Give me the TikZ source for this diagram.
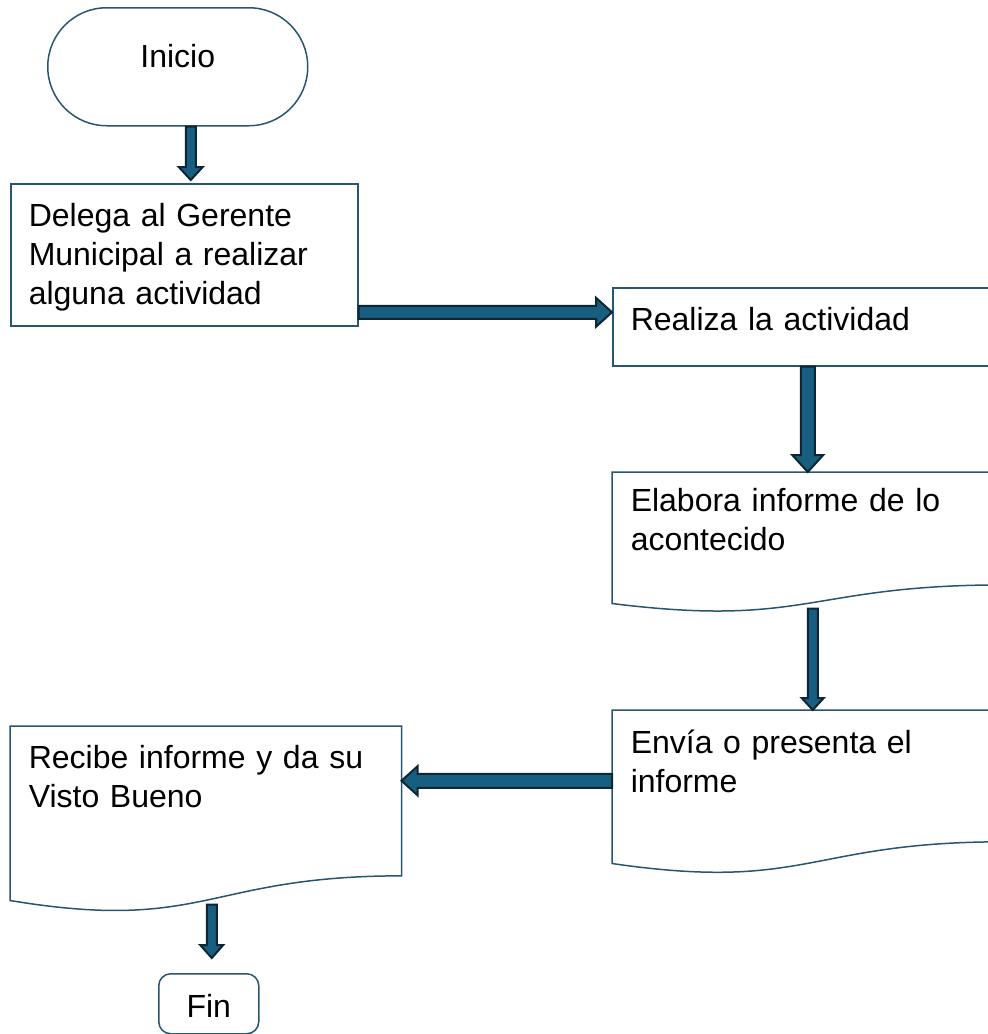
\documentclass[tikz,border=0pt]{standalone}
\usepackage{fontspec}
\setmainfont{Liberation Sans}
\usepackage{tikz}
\usetikzlibrary{calc}
\definecolor{borde}{RGB}{40,85,112}
\definecolor{relleno}{RGB}{24,94,128}
\definecolor{contorno}{RGB}{14,38,52}
\tikzstyle{caja} = [rectangle, anchor=north west, inner xsep=18pt, inner ysep=0pt, align=left, line width=1.5pt]
\tikzstyle{linea} = [draw=borde, line width=1.5pt]
\tikzstyle{flechabloque} = [fill=relleno, draw=contorno, line width=2pt, line join=miter]
% #1 desde, #2 hasta, #3 media anchura, #4 media punta, #5 largo punta
\newcommand{\flecha}[5]{%
  \filldraw[flechabloque] ($(#1)!#3!90:(#2)$) -- ($(#2)!#5!(#1)!#3!-90:(#1)$) -- ($(#2)!#5!(#1)!#4!-90:(#1)$) -- (#2)
    -- ($(#2)!#5!(#1)!#4!90:(#1)$) -- ($(#2)!#5!(#1)!#3!90:(#1)$) -- ($(#1)!#3!-90:(#2)$) -- cycle;}

\begin{document}
\begin{tikzpicture}[x=1pt, y=-1pt, font=\fontsize{32}{39}\selectfont]
      \useasboundingbox (0,0) rectangle (988,1034);
      \clip (0,0) rectangle (988,1034);
      \node[caja, draw=borde, rounded corners=59pt, minimum width=260pt, minimum height=118pt, inner xsep=0pt, align=center, text height=59.5pt, text depth=58.5pt] (inicio) at (47,7) {Inicio};
      \node[caja, draw=borde, text width=311pt, text height=43pt, text depth=99pt] (delega) at (10,183) {Delega al Gerente\\Municipal a realizar\\alguna actividad};
      \node[caja, draw=borde, text width=354pt, text height=43pt, text depth=35pt] (realiza) at (612,287) {Realiza la actividad};
      \node[caja, text width=354pt, text height=39pt, text depth=91pt] (elabora) at (612,472) {Elabora informe de lo\\acontecido};
      \node[caja, text width=354pt, text height=43pt, text depth=109pt] (envia) at (612,710) {Envía o presenta el\\informe};
      \node[caja, text width=354pt, text height=42pt, text depth=131pt] (recibe) at (10,726) {Recibe informe y da su\\Visto Bueno};
      \node[caja, draw=borde, rounded corners=12pt, minimum width=100pt, inner xsep=0pt, align=center, text height=43.5pt, text depth=16.5pt] (fin) at (158,973) {Fin};
      % documentos con borde ondulado
      \foreach \caja in {elabora,envia,recibe}
        \draw[linea] let \p1=(\caja.north west), \p2=(\caja.south east), \n1={\y1-\y2} in
          (\p1) -- (\x2,\y1) -- (\x2,\y2+0.1413*\n1)
          .. controls ({(\x1+\x2)/2},\y2+0.1413*\n1) and ({(\x1+\x2)/2},\y2-0.1858*\n1) .. (\x1,\y2) -- cycle;
      % flechas
      \coordinate (a1) at ([xshift=13pt]inicio.south);
      \path (a1 |- delega.north) ++(0,-3) coordinate (b1);
      \coordinate (b2) at ([yshift=14.5pt]realiza.west);
      \coordinate (a2) at (delega.east |- b2);
      \coordinate (a4) at ([xshift=5pt,yshift=-5pt]elabora.south);
      \coordinate (b4) at ([xshift=5pt]envia.north);
      \coordinate (a5) at ([yshift=6pt]envia.west);
      \coordinate (b5) at (recibe.east |- a5);
      \coordinate (b6) at ([xshift=3pt,yshift=15pt]fin.north);
      \path (b6 |- recibe.south) ++(0,4) coordinate (a6);
      \flecha{a1}{b1}{5pt}{12pt}{13pt}
      \flecha{a2}{b2}{6.5pt}{14.5pt}{16pt}
      \flecha{realiza.south}{elabora.north}{7pt}{15.5pt}{17pt}
      \flecha{a4}{b4}{5pt}{11pt}{12pt}
      \flecha{a5}{b5}{7pt}{14.5pt}{16pt}
      \flecha{a6}{b6}{5pt}{11.5pt}{13pt}
    \end{tikzpicture}
\end{document}
